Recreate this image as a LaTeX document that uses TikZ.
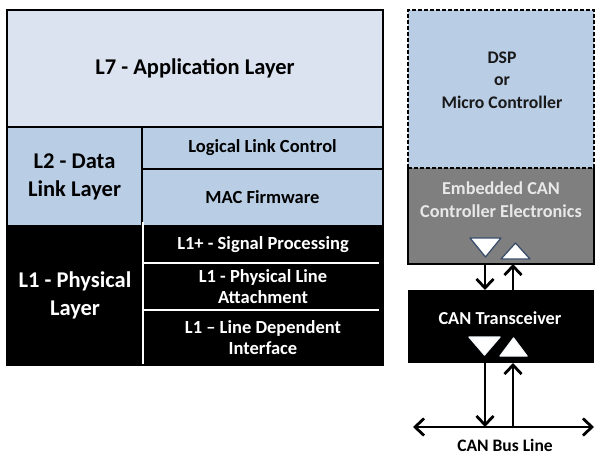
\documentclass[tikz,border=0pt]{standalone}
\usepackage{fontspec}
\setmainfont{Carlito}
\usetikzlibrary{arrows.meta}
\definecolor{applayer}{HTML}{DCE3F0}
\definecolor{linkblue}{HTML}{B9CDE5}
\definecolor{ctrlgray}{HTML}{7F7F7F}
\definecolor{triedge}{HTML}{3B4E6B}
\definecolor{softwhite}{HTML}{E8E8E8}
\begin{document}
\begin{tikzpicture}[x=1pt,y=-1pt,
  cell/.style 2 args={minimum width=#1pt, minimum height=#2pt, anchor=north west,
    inner sep=0pt, outer sep=0pt, align=center, font=\bfseries},
  big/.style={font=\bfseries\fontsize{22.5}{28}\selectfont},
  small/.style={font=\bfseries\fontsize{18.5}{21.5}\selectfont},
  bluecell/.style={fill=linkblue, draw=black, line width=2pt},
  darkcell/.style={fill=black, text=white},
  sep/.style={draw=white, line width=1.8pt},
  barb/.tip={Straight Barb[length=9pt,width=17pt,line width=2.8pt]},
  sig/.style={line width=2.7pt, -barb},
  bus/.style={line width=2.7pt, barb-barb},
  tri/.style={fill=white, draw=triedge, line width=1.3pt, line join=round},
  trilit/.style={fill=white, draw=white!85!linkblue, line width=1.3pt, line join=round},
  label/.style={inner sep=0pt, align=center}]

\useasboundingbox (0,0) rectangle (595,455);
\fill[white] (0,0) rectangle (595,455);

% ---------- protocol layer stack ----------
\node[cell={376}{117}, fill=applayer, draw=black, line width=2pt, big] (l7) at (7,10) {L7 - Application Layer};
\node[cell={135}{99}, bluecell, big] (l2) at (7,127) {L2 - Data\\Link Layer};
\node[cell={241}{42}, bluecell, small] (llc) at (142,127) {Logical Link Control};
\node[cell={241}{57}, bluecell, small] (mac) at (142,169) {MAC Firmware};

\node[cell={136}{139}, darkcell, big] (l1) at (7,226) {L1 - Physical\\Layer};
\node[cell={240}{37}, darkcell, small] (l1a) at (143,226) {L1+ - Signal Processing};
\node[cell={240}{47}, darkcell, small] (l1b) at (143,263) {L1 - Physical Line\\Attachment};
\node[cell={240}{55}, darkcell, small] (l1c) at (143,310) {L1 -- Line Dependent\\Interface};

\draw[sep] ([yshift=4pt]l1a.north west) -- ([yshift=-3pt]l1c.south west);
\draw[sep] (l1b.north west) -- ([xshift=-4pt]l1b.north east);
\draw[sep] (l1c.north west) -- ([xshift=-4pt]l1c.north east);
\draw[line width=2pt] (l7.north west) rectangle (l1c.south east);

% ---------- hardware blocks ----------
\node[cell={186}{96}, fill=ctrlgray] (emb) at (408,168) {};
\draw[line width=1.6pt] (emb.north west) -- (emb.south west) -- (emb.south east) -- (emb.north east);
\node[cell={186}{158}, fill=linkblue, draw=black, line width=1.8pt,
      dash pattern=on 4pt off 2pt] (dsp) at (408,10) {};
\node[cell={186}{73}, fill=black] (trans) at (408,290) {};

\node[label, font=\bfseries\fontsize{17.7}{22.5}\selectfont, text=black!90] (dsptext) at (502,80) {DSP\\or\\Micro Controller};
\node[label, font=\bfseries\fontsize{18.2}{23}\selectfont, text=softwhite] (embtext) at (501,199.5) {Embedded CAN\\Controller Electronics};
\node[label, font=\bfseries\fontsize{18.3}{22}\selectfont, text=white] (transtext) at (500,318) {CAN Transceiver};

% signal direction marks
\draw[tri] (470,238) -- (501,238) -- (485.5,257) -- cycle;
\draw[tri] (501,259) -- (530,259) -- (515.5,243) -- cycle;
\draw[trilit] (469,337) -- (500,337) -- (484.5,355) -- cycle;
\draw[trilit] (500,356) -- (527,356) -- (513.5,338) -- cycle;

% ---------- connections ----------
\coordinate (dnx) at (485,0);
\coordinate (upx) at (513,0);
\coordinate (busL) at (413,427);
\coordinate (busR) at (594,427);

\draw[sig] (emb.south -| dnx) -- (trans.north -| dnx);
\draw[sig] (trans.north -| upx) -- (emb.south -| upx);
\draw[sig] (trans.south -| dnx) -- (busL -| dnx);
\draw[sig] (busL -| upx) -- (trans.south -| upx);
\draw[bus] (busL) -- (busR);

\node[label, font=\bfseries\fontsize{17.5}{21}\selectfont] (buslabel) at (505,445) {CAN Bus Line};
\end{tikzpicture}
\end{document}
